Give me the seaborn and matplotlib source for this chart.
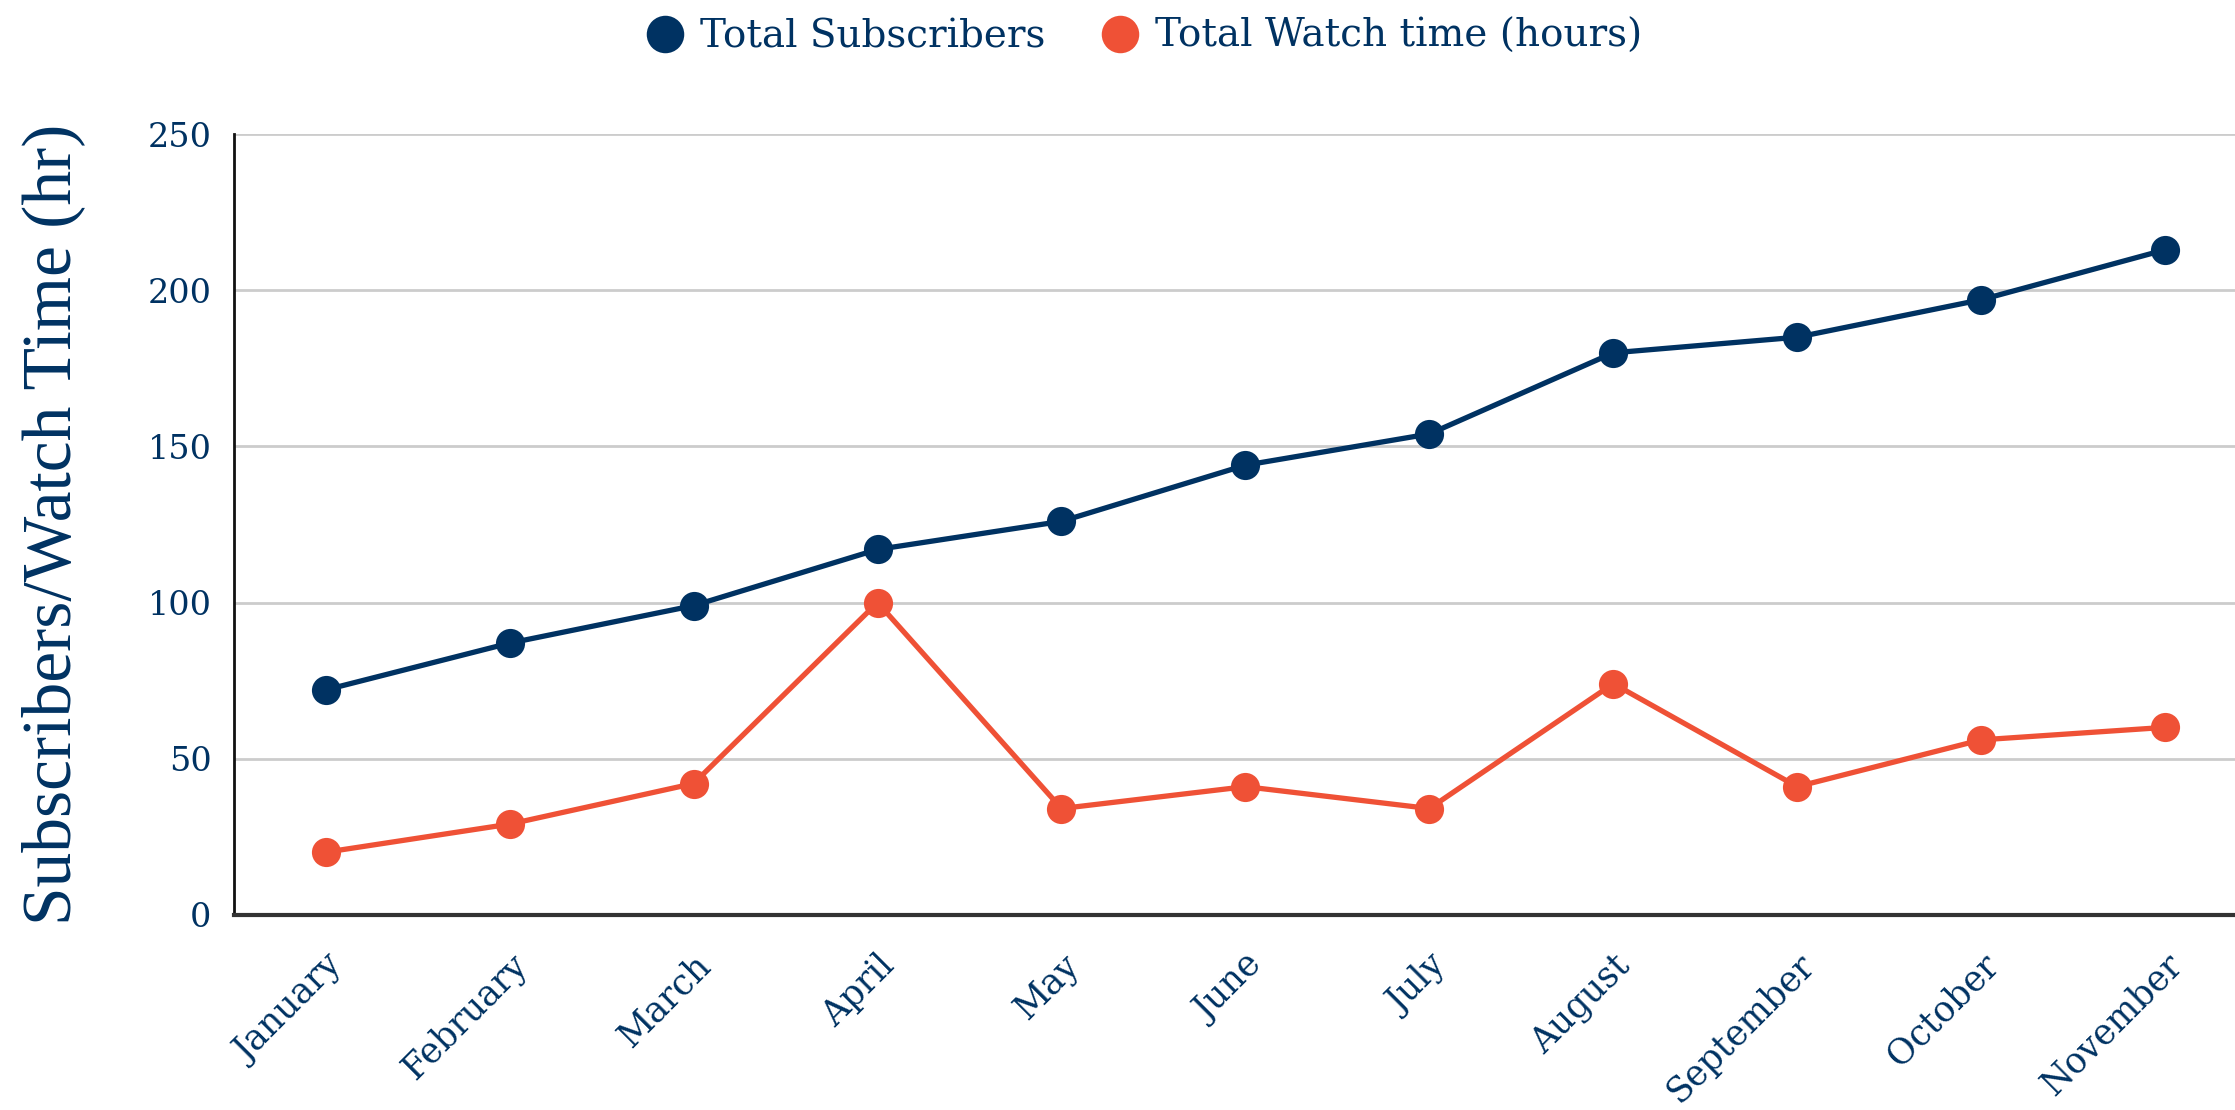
import matplotlib
matplotlib.use("Agg")
import matplotlib.pyplot as plt
import seaborn as sns
import pandas as pd

months = ["January", "February", "March", "April", "May", "June", "July",
          "August", "September", "October", "November"]
subscribers = [72, 87, 99, 117, 126, 144, 154, 180, 185, 197, 213]
watch_time = [20, 29, 42, 100, 34, 41, 34, 74, 41, 56, 60]
series_names = ["Total Subscribers", "Total Watch time (hours)"]
y_ticks = [0, 50, 100, 150, 200, 250]

NAVY = "#003262"
ORANGE = "#EF5136"

df = pd.DataFrame({
    "month": months * 2,
    "x": list(range(len(months))) * 2,
    "value": subscribers + watch_time,
    "series": [series_names[0]] * len(months) + [series_names[1]] * len(months),
})

sns.set_theme(style="white")
plt.rcParams["font.family"] = ["DejaVu Serif", "Liberation Serif"]

fig = plt.figure(figsize=(22.35, 11.1), dpi=100)
ax = fig.add_axes([0.1046, 0.176, 0.8954, 0.703])

sns.lineplot(data=df, x="x", y="value", hue="series", palette=[NAVY, ORANGE],
             marker="o", markersize=21, markeredgewidth=0, linewidth=3.8,
             ax=ax, legend=False)

ax.set_xlim(-0.5, 10.38)
ax.set_ylim(0, 250)
ax.set_yticks(y_ticks)
ax.set_yticklabels([str(t) for t in y_ticks], color=NAVY, fontsize=24)
ax.set_xticks(range(len(months)))
ax.set_xticklabels(months, rotation=45, ha="right", rotation_mode="anchor",
                   color=NAVY, fontsize=25)
ax.tick_params(axis="y", length=0, pad=16)
ax.tick_params(axis="x", length=0, pad=24)
ax.grid(axis="y", color="#cccccc", linewidth=2)
ax.set_axisbelow(True)
for s in ["top", "right"]:
    ax.spines[s].set_visible(False)
ax.spines["left"].set_color("#111111")
ax.spines["left"].set_linewidth(2)
ax.spines["bottom"].set_color("#333333")
ax.spines["bottom"].set_linewidth(3)
ax.set_xlabel("")
ax.set_ylabel("Subscribers/Watch Time (hr)", color=NAVY, fontsize=50,
              family=["Liberation Serif", "DejaVu Serif"])
ax.yaxis.set_label_coords(-0.0745, 0.5)

handles = [plt.Line2D([], [], linestyle="none", marker="o", markersize=27,
                      markerfacecolor=c, markeredgewidth=0) for c in [NAVY, ORANGE]]
leg = fig.legend(handles, series_names, loc="center", bbox_to_anchor=(0.511, 0.967),
                 ncol=2, frameon=False, fontsize=28, handletextpad=0.3,
                 columnspacing=1.3, handlelength=1.2)
for t in leg.get_texts():
    t.set_color(NAVY)

fig.savefig("out.png", dpi=100)
